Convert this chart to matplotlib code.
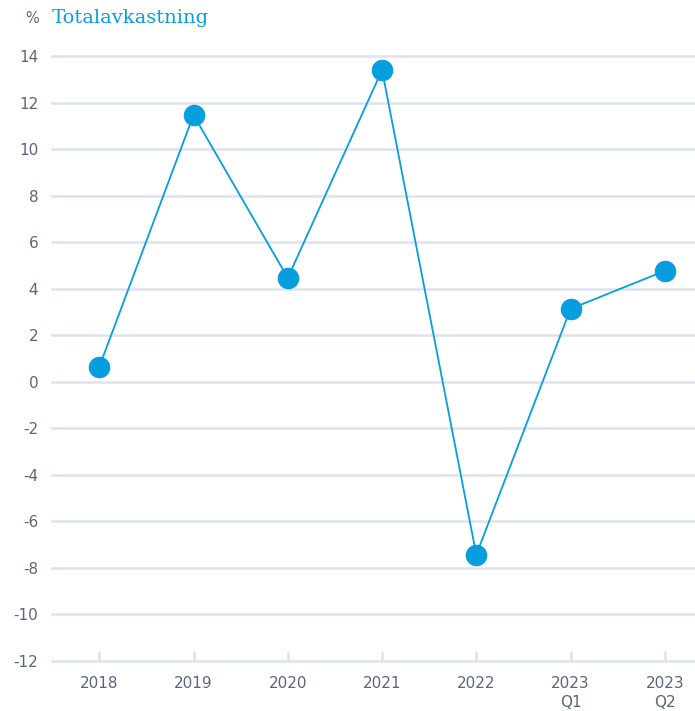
import matplotlib
matplotlib.use("Agg")
import matplotlib.pyplot as plt

labels = ["2018", "2019", "2020", "2021", "2022", "2023\nQ1", "2023\nQ2"]
values = [0.64, 11.47, 4.47, 13.4, -7.43, 3.14, 4.77]
yticks = list(range(-12, 15, 2))

blue = "#069edf"
grid = "#dde3ef"
txt = "#5b657a"

fig = plt.figure(figsize=(6.95, 7.11), dpi=100)
ax = fig.add_axes([0.075, 0.0703, 0.925, 0.8507])

x = list(range(len(values)))
ax.plot(x, values, color=blue, lw=1.3, marker="o", markersize=14.5, zorder=3,
        clip_on=False)

ax.set_ylim(-12, 14)
ax.set_xlim(-0.5, 6.32)
ax.set_yticks(yticks)
ax.set_yticklabels([str(v) for v in yticks])
ax.set_xticks(x)
ax.set_xticklabels(labels, linespacing=1.35)

for v in yticks:
    ax.axhline(v, color=grid, lw=1.8, zorder=1, clip_on=False)

for s in ax.spines.values():
    s.set_visible(False)

ax.tick_params(axis="y", length=0, pad=10, labelsize=11, labelcolor=txt)
ax.tick_params(axis="x", direction="in", length=7, width=1.8, color=grid,
               pad=11, labelsize=11, labelcolor=txt)
for lab in ax.get_xticklabels():
    lab.set_verticalalignment("top")

fig.text(0.036, 0.974, "%", color=txt, fontsize=10.5, ha="left", va="center")
fig.text(0.075, 0.974, "Totalavkastning", color=blue, fontsize=14,
         family="DejaVu Serif", ha="left", va="center")

fig.savefig("out.png", dpi=100)
